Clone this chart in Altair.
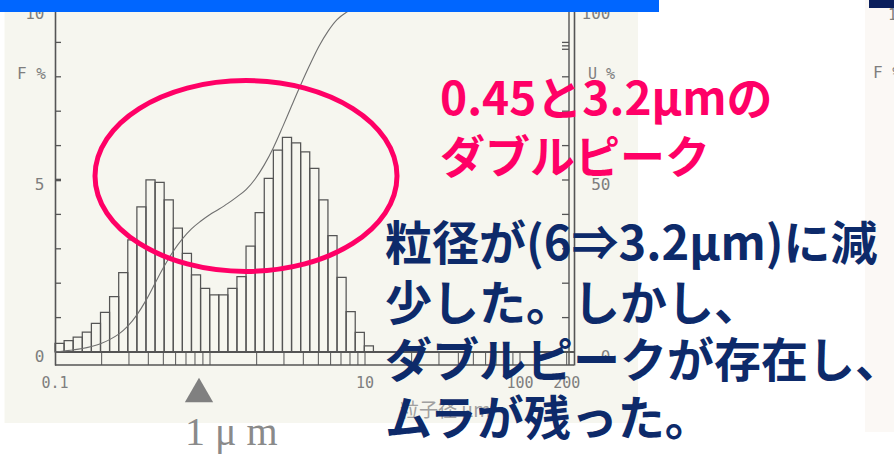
import altair as alt
import pandas as pd

# Particle-size channels (µm, log spaced) and frequency per channel (F %)
bin_edges = [0.100, 0.1145, 0.1310, 0.1500, 0.1717, 0.1966, 0.2250, 0.2576, 0.2948, 0.3375,
             0.3863, 0.4422, 0.5062, 0.5795, 0.6633, 0.7593, 0.8692, 0.9950, 1.139, 1.304,
             1.492, 1.708, 1.956, 2.239, 2.563, 2.933, 3.358, 3.844, 4.400, 5.037,
             5.766, 6.600, 7.555, 8.648, 9.900, 11.33]
freq_pct = [0.25, 0.33, 0.43, 0.58, 0.83, 1.15, 1.61, 2.31, 3.26, 4.22,
            5.00, 4.93, 4.42, 3.60, 2.87, 2.24, 1.85, 1.66, 1.66, 1.85,
            2.19, 3.08, 4.05, 5.05, 5.87, 6.24, 6.08, 5.82, 5.34, 4.42,
            3.38, 2.17, 1.17, 0.57, 0.18]
# Cumulative undersize (U %) at each channel boundary
under_pct = [0.0, 0.3, 0.6, 1.0, 1.6, 2.4, 3.6, 5.2, 7.5, 10.8,
             15.0, 20.0, 24.9, 29.3, 32.9, 35.8, 38.0, 39.9, 41.5, 43.2,
             45.1, 47.2, 50.3, 54.4, 59.4, 65.3, 71.5, 77.6, 83.4, 88.8,
             93.2, 96.6, 98.7, 99.9, 100.0, 100.0]

# Axis ticks and labels
x_label_values = [0.1, 10, 100, 200]
band_ticks = [0.2, 0.3, 0.4, 0.5, 0.6, 0.7, 0.8, 0.9, 1,
              2, 3, 4, 5, 6, 7, 8, 9, 10,
              20, 30, 40, 50, 60, 70, 80, 90, 100, 200]
f_ticks = [1, 2, 3, 4, 5, 6, 7, 8, 9]
f_label_values = [0, 5, 10]
u_ticks = [10, 20, 30, 40, 50, 60, 70, 80, 88, 89, 90]
u_label_values = [0, 50, 100]

bars = pd.DataFrame({"lo": bin_edges[:-1], "hi": bin_edges[1:], "F": freq_pct})
curve = pd.DataFrame({"d": bin_edges, "U": under_pct})
band_df = pd.DataFrame({"x": band_ticks})
xlab_df = pd.DataFrame({"v": x_label_values})
fticks_df = pd.DataFrame({"t": f_ticks})
uticks_df = pd.DataFrame({"t": u_ticks})
single = pd.DataFrame({"n": [1]})  # one row for stand-alone decorations

W, H = 519, 357
INK = "#555555"
SCAN_BG = "#f6f6ef"
LABEL_FONT = "DejaVu Sans Mono"
LABEL_GREY = "#7e7e7e"
CJK = "Noto Sans CJK JP"
PINK = "#ff0066"
NAVY = "#0d2a6a"

# U % (0-100) shares the F % (0-10) pixel range, so one y scale serves both
x_scale = alt.Scale(type="log", domain=[0.1, 223], nice=False)
f_scale = alt.Scale(domain=[-0.378, 10], nice=False, zero=False)


def box(x0, x1, y0, y1, color):
    return alt.Chart(single).mark_rect(color=color).encode(
        x=alt.value(x0), x2=alt.value(x1), y=alt.value(y0), y2=alt.value(y1))


def label(txt, x, y, size, color, font=CJK, weight="normal", align="left"):
    return alt.Chart(single).mark_text(
        text=txt, font=font, fontSize=size, fontWeight=weight, color=color,
        align=align, baseline="middle").encode(x=alt.value(x), y=alt.value(y))


# page regions outside the scanned sheet
backdrop = [
    box(-60, -50.5, -10, 450, "white"),
    box(583, 810, -10, 450, "white"),
    box(-60, 583, 415, 450, "white"),
    box(810, 845, -10, 424, "#fbf8f5"),
    box(810, 845, 424, 450, "white"),
]

# ---- frame: log-tick band under the baseline, inward ticks, double right edge
band = alt.Chart(band_df).transform_calculate(y0="0", y1="-0.378").mark_rule(
    color=INK, strokeWidth=1).encode(
    x=alt.X("x:Q", scale=x_scale, axis=None),
    y=alt.Y("y0:Q", scale=f_scale, axis=None), y2="y1:Q")

baseline = alt.Chart(single).transform_calculate(y0="0").mark_rule(
    color=INK, strokeWidth=2).encode(
    x=alt.value(0), x2=alt.value(W),
    y=alt.Y("y0:Q", scale=f_scale, axis=None))

bottom_edge = alt.Chart(single).mark_rule(color=INK, strokeWidth=1.6).encode(
    x=alt.value(0), x2=alt.value(W), y=alt.value(H))

left_ticks = alt.Chart(fticks_df).mark_rule(color=INK).encode(
    y=alt.Y("t:Q", scale=f_scale, axis=None),
    x=alt.value(0), x2=alt.value(6),
    strokeWidth=alt.condition(alt.datum.t == 5, alt.value(2.6), alt.value(1.3)))

inner_right = alt.Chart(single).mark_rule(color=INK, strokeWidth=1.4).encode(
    x=alt.value(W - 5), y=alt.value(0), y2=alt.value(H))

right_ticks = alt.Chart(uticks_df).transform_calculate(tf="datum.t / 10").mark_rule(
    color=INK, strokeWidth=1.3).encode(
    y=alt.Y("tf:Q", scale=f_scale, axis=None),
    x=alt.value(W - 12), x2=alt.value(W - 5))

# particle-size tick labels, placed through the log scale
x_labels = alt.Chart(xlab_df).mark_text(
    font=LABEL_FONT, fontSize=15, color=LABEL_GREY, align="center",
    baseline="middle").encode(
    x=alt.X("v:Q", scale=x_scale, axis=None),
    y=alt.value(375),
    text=alt.Text("v:Q"))

x_title = label("粒子径 μm", 345, 403, 19, "#a0a0a0")

# ---- histogram (F %)
hist = alt.Chart(bars).transform_calculate(zero="0").mark_rect(
    fillOpacity=0, stroke=INK, strokeWidth=1.25).encode(
    x=alt.X("lo:Q", scale=x_scale, axis=None),
    x2="hi:Q",
    y=alt.Y("F:Q", scale=f_scale, axis=alt.Axis(
        orient="left", values=f_label_values, labelExpr="'' + datum.value",
        ticks=False, grid=False, domainColor=INK, domainWidth=1.6,
        labelPadding=11, labelOffset=5,
        labelFont=LABEL_FONT, labelFontSize=16, labelColor=LABEL_GREY,
        title="F %", titleFont=LABEL_FONT, titleFontSize=16, titleFontWeight="normal",
        titleColor=LABEL_GREY, titleAngle=0, titleX=-24, titleY=65,
        titleAlign="center", titleBaseline="middle")),
    y2="zero:Q",
)

# ---- cumulative undersize curve (U %, right axis)
cum = alt.Chart(curve).transform_calculate(Uf="datum.U / 10").mark_line(
    color="#707070", strokeWidth=1.1, interpolate="monotone").encode(
    x=alt.X("d:Q", scale=x_scale, axis=None),
    y=alt.Y("Uf:Q", scale=f_scale, axis=alt.Axis(
        orient="right", values=[v / 10 for v in u_label_values],
        labelExpr="'' + round(datum.value * 10)",
        ticks=False, grid=False, domainColor=INK, domainWidth=1.6,
        labelPadding=36, labelAlign="right", labelOffset=5,
        labelFont=LABEL_FONT, labelFontSize=16, labelColor=LABEL_GREY,
        title="U %", titleFont=LABEL_FONT, titleFontSize=15, titleFontWeight="normal",
        titleColor=LABEL_GREY, titleAngle=0, titleX=27, titleY=65,
        titleAlign="center", titleBaseline="middle")))

# ---- slide decorations and captions
ellipse_path = ("M -1 0 C -1 -0.349 -0.5523 -0.632 0 -0.632 "
                "C 0.5523 -0.632 1 -0.349 1 0 "
                "C 1 0.349 0.5523 0.632 0 0.632 "
                "C -0.5523 0.632 -1 0.349 -1 0 Z")
ellipse = alt.Chart(single).mark_point(
    shape=ellipse_path, size=302 * 302, filled=False, stroke=PINK, strokeWidth=5,
    opacity=1).encode(x=alt.value(191), y=alt.value(168))

marker = alt.Chart(single).mark_point(
    shape="triangle-up", size=800, filled=True, color="#808080", opacity=1).encode(
    x=alt.value(144), y=alt.value(382))

overlay = [
    box(-60, 604, -10, 4, "#0066ff"),
    box(814, 845, -10, 0, "#0b1f5c"),
    label("10", 833, 7, 15, LABEL_GREY, font=LABEL_FONT),
    label("F %", 818, 65, 16, LABEL_GREY, font=LABEL_FONT),
    ellipse,
    marker,
    label("1 μ m", 130, 425, 40, "#8a8a8a", font="Liberation Serif"),
    label("0.45と3.2μmの", 385, 93, 46, PINK, weight="bold"),
    label("ダブルピーク", 385, 152, 45, PINK, weight="bold"),
    label("粒径が(6⇒3.2μm)に減", 330, 238, 47, NAVY, weight="bold"),
    label("少した。しかし、", 330, 298, 47, NAVY, weight="bold"),
    label("ダブルピークが存在し、", 330, 355, 47, NAVY, weight="bold"),
    label("ムラが残った。", 330, 413, 47, NAVY, weight="bold"),
]

chart = alt.layer(
    *backdrop, band, baseline, bottom_edge, left_ticks, inner_right, right_ticks,
    x_labels, x_title, hist, cum, *overlay
).properties(
    width=W, height=H,
    padding={"left": 55, "top": 8, "right": 320, "bottom": 90},
    autosize=alt.AutoSizeParams(type="none"),
    background=SCAN_BG,
).configure_view(strokeWidth=0)

chart.save("out.html", embed_options={"renderer": "svg", "actions": False})
